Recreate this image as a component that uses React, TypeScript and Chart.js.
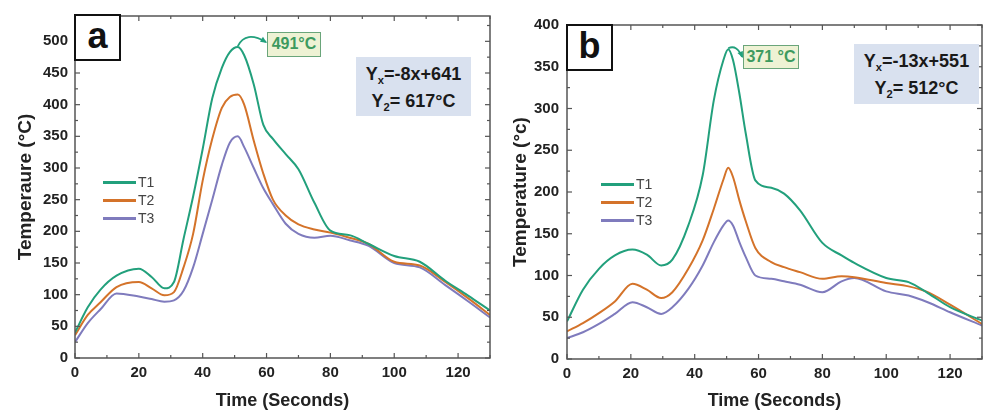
import React, { useEffect, useRef } from "react";
import { Chart, registerables } from "chart.js";
Chart.register(...registerables);

// ---------- data: panel a ----------
const timeA = [0, 4, 8, 13, 20, 24, 28, 31, 34, 37, 40, 43, 46, 48.5, 51, 53, 56, 59, 62, 66, 70, 75, 80, 86, 92, 100, 108, 116, 123, 130];
const t1A = [40, 80, 108, 130, 141, 128, 110, 120, 188, 255, 330, 410, 458, 483, 491, 478, 432, 368, 346, 322, 298, 245, 201, 194, 180, 161, 152, 122, 99, 75];
const t2A = [36, 68, 88, 112, 120, 110, 99, 104, 143, 196, 280, 346, 395, 412, 416, 400, 343, 291, 250, 225, 211, 203, 198, 190, 180, 152, 146, 120, 95, 68];
const t3A = [25, 55, 77, 102, 97, 93, 89, 91, 106, 143, 196, 250, 305, 340, 350, 333, 300, 268, 243, 212, 196, 190, 193, 186, 177, 150, 143, 115, 90, 64];

// ---------- data: panel b ----------
const timeB = [0, 5, 10, 15, 20.5, 25, 29.5, 33, 38, 42.5, 46, 49, 50.5, 52, 54, 56, 59, 64, 68, 73, 80, 86, 90, 100, 107, 113, 120, 130];
const t1B = [45, 83, 108, 124, 131, 125, 112, 119, 160, 220, 310, 358, 371, 358, 318, 270, 214, 205, 198, 178, 139, 124, 115, 97, 92, 79, 62, 46];
const t2B = [33, 43, 55, 69, 90, 83, 73, 80, 108, 142, 180, 215, 229, 218, 190, 165, 133, 116, 110, 104, 96, 99, 98, 91, 87, 80, 65, 42];
const t3B = [25, 32, 42, 54, 68, 62, 54, 62, 84, 112, 140, 160, 166, 160, 140, 122, 100, 96, 93, 89, 80, 93, 97, 81, 76, 68, 56, 40];

// ---------- ticks / labels ----------
const xTicks = [0, 20, 40, 60, 80, 100, 120];
const yTicksA = [0, 50, 100, 150, 200, 250, 300, 350, 400, 450, 500];
const yTicksB = [0, 50, 100, 150, 200, 250, 300, 350, 400];
const seriesNames = ["T1", "T2", "T3"];
const seriesColors = ["#22a07c", "#d4732a", "#7f7bbd"];
const peakTextA = "491°C";
const peakTextB = "371 °C";
const yTitleA = "Temperaure (°C)";
const yTitleB = "Temperature (°c)";
const xTitle = "Time (Seconds)";

const FONT = "'Liberation Sans', Arial, sans-serif";

const framePlugin = {
  id: "frame",
  afterDraw(chart: any, _args: any, opts: any) {
    const { ctx, chartArea: a, scales } = chart;
    const x = scales.x;
    const y = scales.y;
    ctx.save();
    ctx.strokeStyle = "#555";
    ctx.lineWidth = 1.5;
    ctx.strokeRect(a.left, a.top, a.right - a.left, a.bottom - a.top);
    ctx.lineWidth = 1.2;
    const seg = (x1: number, y1: number, x2: number, y2: number) => {
      ctx.beginPath();
      ctx.moveTo(x1, y1);
      ctx.lineTo(x2, y2);
      ctx.stroke();
    };
    for (let v = 0; v <= x.max; v += 10) {
      const px = x.getPixelForValue(v);
      const len = v % 20 === 0 ? 5 : 3;
      seg(px, a.bottom, px, a.bottom - len);
      seg(px, a.top, px, a.top + len);
    }
    for (let v = 0; v <= y.max; v += 25) {
      const py = y.getPixelForValue(v);
      const len = v % 50 === 0 ? 5 : 3;
      seg(a.left, py, a.left + len, py);
      seg(a.right, py, a.right - len, py);
    }
    // peak arrow
    if (opts && opts.arrow) {
      const ds = chart.data.datasets[0].data as { x: number; y: number }[];
      let best = ds[0];
      ds.forEach((p) => { if (p.y > best.y) best = p; });
      const sx = x.getPixelForValue(best.x);
      const sy = y.getPixelForValue(best.y);
      const { ex, ey, cx, cy } = opts.arrow;
      ctx.strokeStyle = seriesColors[0];
      ctx.fillStyle = seriesColors[0];
      ctx.lineWidth = 1.8;
      ctx.beginPath();
      ctx.moveTo(sx, sy - 1);
      ctx.quadraticCurveTo(sx + cx, sy + cy, ex, ey);
      ctx.stroke();
      const ang = Math.atan2(ey - (sy + cy), ex - (sx + cx));
      const hl = 6;
      ctx.beginPath();
      ctx.moveTo(ex + 1, ey + 1);
      ctx.lineTo(ex - hl * Math.cos(ang - 0.5), ey - hl * Math.sin(ang - 0.5));
      ctx.lineTo(ex - hl * Math.cos(ang + 0.5), ey - hl * Math.sin(ang + 0.5));
      ctx.closePath();
      ctx.fill();
    }
    ctx.restore();
  },
};

function makeConfig(times: number[], series: number[][], yMax: number, yTicks: number[], yTitle: string, yWidth: number, xHeight: number, pad: any, tickPad: number, arrow: any) {
  return {
    type: "line",
    data: {
      datasets: series.map((vals, i) => ({
        label: seriesNames[i],
        data: vals.map((v, j) => ({ x: times[j], y: v })),
        borderColor: seriesColors[i],
        borderWidth: 2,
        pointRadius: 0,
        fill: false,
        cubicInterpolationMode: "monotone",
      })),
    },
    options: {
      responsive: false,
      animation: false,
      devicePixelRatio: 1,
      layout: { padding: pad },
      plugins: { legend: { display: false }, tooltip: { enabled: false }, frame: { arrow } },
      scales: {
        x: {
          type: "linear",
          min: 0,
          max: 130,
          afterBuildTicks: (s: any) => { s.ticks = xTicks.map((v) => ({ value: v })); },
          afterFit: (s: any) => { s.height = xHeight; },
          grid: { display: false, drawTicks: false },
          border: { display: false },
          ticks: { padding: 6, color: "#222", maxRotation: 0, autoSkip: false, font: { family: FONT, size: 15, weight: "bold" } },
          title: { display: true, text: xTitle, color: "#222", padding: { top: 0, bottom: 0 }, font: { family: FONT, size: 18, weight: "bold" } },
        },
        y: {
          type: "linear",
          min: 0,
          max: yMax,
          afterBuildTicks: (s: any) => { s.ticks = yTicks.map((v) => ({ value: v })); },
          afterFit: (s: any) => { s.width = yWidth; },
          grid: { display: false, drawTicks: false },
          border: { display: false },
          ticks: { padding: tickPad, color: "#222", autoSkip: false, font: { family: FONT, size: 15, weight: "bold" } },
          title: { display: true, text: yTitle, color: "#222", padding: { top: 14, bottom: 0 }, font: { family: FONT, size: 19, weight: "bold" } },
        },
      },
    },
    plugins: [framePlugin],
  };
}

function Panel(props: { left: number; width: number; config: any }) {
  const ref = useRef<HTMLCanvasElement>(null);
  useEffect(() => {
    const chart = new Chart(ref.current as HTMLCanvasElement, props.config);
    return () => chart.destroy();
  }, []);
  return (
    <canvas
      ref={ref}
      width={props.width}
      height={412}
      style={{ position: "absolute", left: props.left, top: 0, width: props.width, height: 412 }}
    />
  );
}

const abs = (l: number, t: number, w: number, h: number): React.CSSProperties => ({
  position: "absolute", left: l, top: t, width: w, height: h, boxSizing: "border-box",
});

function Legend(props: { left: number; top: number }) {
  return (
    <>
      {seriesNames.map((n, i) => (
        <React.Fragment key={n}>
          <div style={{ ...abs(props.left, props.top + i * 18 - 1, 33, 2.5), background: seriesColors[i] }} />
          <div style={{ position: "absolute", left: props.left + 35, top: props.top + i * 18 - 9, fontFamily: FONT, fontSize: 14, color: "#444", lineHeight: "18px" }}>{n}</div>
        </React.Fragment>
      ))}
    </>
  );
}

const sub = (s: string) => (
  <span style={{ fontSize: "0.62em", position: "relative", top: "0.35em" }}>{s}</span>
);

function EqBox(props: { left: number; top: number; w: number; h: number; l1: string; l2: string }) {
  return (
    <div style={{ ...abs(props.left, props.top, props.w, props.h), background: "#d9e1ef", fontFamily: FONT, fontWeight: "bold", fontSize: 18, color: "#1a1a1a", textAlign: "center", lineHeight: "25px", paddingTop: 5 }}>
      <div>Y{sub("x")}{props.l1}</div>
      <div>Y{sub("2")}{props.l2}</div>
    </div>
  );
}

function PeakBox(props: { left: number; top: number; w: number; h: number; text: string }) {
  return (
    <div style={{ ...abs(props.left, props.top, props.w, props.h), background: "#eef2d4", border: "1.5px solid #6aa57a", color: "#3d9a5f", fontFamily: FONT, fontWeight: "bold", fontSize: 16, textAlign: "center", lineHeight: `${props.h - 3}px`, whiteSpace: "nowrap" }}>
      {props.text}
    </div>
  );
}

function LetterBox(props: { left: number; top: number; text: string }) {
  return (
    <div style={{ ...abs(props.left, props.top, 47, 47), background: "#fff", border: "2.5px solid #111", fontFamily: FONT, fontWeight: "bold", fontSize: 36, color: "#111", textAlign: "center", lineHeight: "40px" }}>
      {props.text}
    </div>
  );
}

export default function App() {
  const cfgA = makeConfig(timeA, [t1A, t2A, t3A], 540, yTicksA, yTitleA, 75, 54, { left: 0, right: 5, top: 15, bottom: 0 }, 7, { ex: 266, ey: 42, cx: 8, cy: -17 });
  const cfgB = makeConfig(timeB, [t1B, t2B, t3B], 400, yTicksB, yTitleB, 72, 53, { left: 0, right: 2, top: 25, bottom: 0 }, 8, { ex: 742 - 495, ey: 57, cx: 9, cy: -5 });
  return (
    <div style={{ position: "absolute", left: 0, top: 0, width: 984, height: 412, background: "#fff", overflow: "hidden" }}>
      <Panel left={0} width={495} config={cfgA} />
      <Panel left={495} width={489} config={cfgB} />
      <LetterBox left={74} top={14} text="a" />
      <LetterBox left={566} top={24} text="b" />
      <PeakBox left={267} top={32} w={54} h={25} text={peakTextA} />
      <PeakBox left={743} top={45} w={56} h={24} text={peakTextB} />
      <EqBox left={356} top={57} w={115} h={59} l1="=-8x+641" l2="= 617°C" />
      <EqBox left={854} top={44} w={125} h={60} l1="=-13x+551" l2="= 512°C" />
      <Legend left={103} top={182} />
      <Legend left={601} top={184} />
    </div>
  );
}
